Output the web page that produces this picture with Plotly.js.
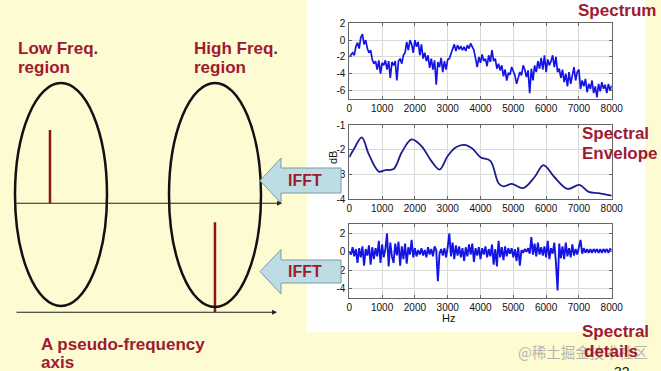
<!DOCTYPE html>
<html>
<head>
<meta charset="utf-8">
<script src="https://cdn.plot.ly/plotly-3.0.1.min.js"></script>
<style>html,body{margin:0;padding:0;background:#FDFBD2;}#chart{width:661px;height:371px;}</style>
</head>
<body>
<div id="chart"></div>
<script>
// ---------- DATA ----------
const freqStart = 0;      // Hz
const freqStep = 50;      // Hz between samples
const freqTicks = [0, 1000, 2000, 3000, 4000, 5000, 6000, 7000, 8000];

// Spectrum (log magnitude), samples every 50 Hz from 0 to 8000 Hz
const spectrum = [
  -2, -1.7, -1.5, -1.8, -0.8, -0.3, -1, 0.3, 0.7, -0.5, 0, -1, -1.5, -1.2, -2.3, -2.8, -2.5, -3.5, -2.4, -4,
  -2.7, -3, -2.4, -3.5, -2.5, -4.5, -2.6, -3, -2.5, -4.8, -2.5, -2.2, -2.8, -1.8, -1.5, -0.2, -1.2, 0, -0.5, -1.5,
  0, -0.8, -0.2, -1.8, -0.5, -2.2, -1.5, -2.5, -1.8, -3.3, -2.2, -3.5, -2.4, -5.3, -2.6, -3.2, -2.1, -3.8, -2.5, -3.5,
  -2.3, -2.2, -1.6, -1.2, -0.5, -1.3, -0.6, -1.1, -0.7, -1.2, -0.8, -1.3, -0.6, -1, -0.4, -0.8, -1.2, -2.2, -3.2, -2,
  -2.7, -1.7, -2.5, -2.2, -3.1, -1.8, -2.6, -1.2, -2.5, -2.2, -3.4, -2.8, -3.6, -3, -4.3, -3.5, -4.8, -3.9, -4.1, -3.2,
  -3.8, -4.2, -5.2, -4.4, -3.8, -4.2, -3, -3.5, -4.4, -3.6, -6.3, -3.4, -4.8, -3, -3.8, -2.5, -3.4, -2.1, -3.5, -1.8,
  -3.8, -2.3, -3, -2.5, -1.8, -3.2, -2, -3.8, -3.4, -4.5, -3.5, -5, -4, -5.5, -3.8, -5.2, -4.3, -3.2, -4.8, -3.8,
  -3.5, -5.8, -4.8, -5.5, -4.6, -6.2, -5.2, -5.8, -4.8, -6.3, -5.5, -6.8, -5.2, -6.1, -5, -5.8, -5.3, -6.3, -5.2, -6,
  -5.4
];

// Spectral envelope (smooth)
const envelopeHz = [0, 150, 380, 600, 900, 1100, 1350, 1600, 1900, 2200, 2500, 2750, 3000, 3250, 3500, 3750, 4000, 4300, 4550, 4700, 4950, 5300, 5650, 5920, 6250, 6650, 7020, 7300, 7600, 8000];
const envelopeDb = [-2.3, -1.95, -1.5, -2.2, -2.88, -2.82, -2.78, -2.1, -1.58, -1.85, -2.45, -2.8, -2.25, -1.9, -1.8, -1.95, -2.3, -2.45, -3.35, -3.48, -3.38, -3.55, -3.1, -2.62, -3.1, -3.58, -3.42, -3.7, -3.75, -3.85];

// Spectral details (fine structure), samples every 50 Hz
const details = [
  0, -0.3, 0.5, -0.5, 0.3, -1.2, 0.4, -0.6, 0.6, -1.5, 0.3, -0.4, 0.7, -1.4, 0.5, -0.8, 0.4, -0.5, 1.2, -1.2,
  0.8, -0.6, 0.3, 2.0, -1.6, 1.0, -0.5, -1.2, 0.9, -0.4, 1.1, -1.5, 0.6, -0.8, 0.9, -1.3, 0.5, -0.3, 1.3, -0.6,
  0.4, -0.5, 0.2, -0.3, 0.4, -0.4, 0.2, -0.6, 0.5, -0.3, 0.3, -0.5, 0.6, 0.2, -3.2, -0.2, 0.3, -0.4, 0.4, -0.6,
  0.5, 2.0, -0.5, 1.0, -0.8, 0.7, -0.4, 0.6, -0.6, 0.4, -1.0, 0.5, -0.5, 0.8, -0.3, 0.9, -1.1, 0.4, -0.4, 0.5,
  -0.8, 0.4, -0.3, 0.6, -0.6, 0.3, -0.5, 0.8, -1.4, 0.3, -1.6, 1.2, -0.6, 0.5, -0.9, 0.6, -0.5, 0.4, -0.2, 0.4,
  -0.6, 0.3, -1.0, 0.5, -1.5, 0.2, -0.1, 0.3, 0.0, 0.4, -0.2, 1.6, -0.3, 0.9, -0.5, 1.0, -0.3, 0.5, -0.4, 0.6,
  -0.6, 1.2, -0.8, 0.4, -0.2, 1.0, -1.2, -4.2, 0.9, -0.7, 0.6, -0.8, 1.0, -0.5, 0.4, -0.6, 0.8, -0.4, 0.3, -0.3,
  0.5, 1.3, -0.2, 0.4, -0.1, 0.3, -0.1, 0.3, -0.1, 0.3, 0.0, 0.3, -0.1, 0.3, -0.1, 0.3, 0.0, 0.3, -0.1, 0.3,
  0.2
];

// Pseudo-frequency (cepstrum) diagram: two stems
const stemQuefrency = [1.31, 7.49];   // position along pseudo-frequency axis
const stemAmplitude = [0.73, 0.90];   // stem heights

// Tick labels
const ticks1 = [-6, -4, -2, 0, 2];
const ticks2 = [-4, -3, -2, -1];
const ticks3 = [-4, -2, 0, 2];

// ---------- LAYOUT HELPERS ----------
const W = 661, H = 371;
const X = p => p / W;
const Y = p => 1 - p / H;
const RED = '#9E1A32';
const BOLD = 'Liberation Sans, Arial, sans-serif';
const TICKF = {family: 'Liberation Sans Narrow, Liberation Sans, Arial, sans-serif', size: 10, color: '#111'};

const traces = [
  {x0: freqStart, dx: freqStep, y: spectrum, xaxis: 'x', yaxis: 'y', mode: 'lines', line: {color: '#1414E6', width: 1.7}},
  {x: envelopeHz, y: envelopeDb, xaxis: 'x2', yaxis: 'y2', mode: 'lines', line: {color: '#1C1C8F', width: 1.8, shape: 'spline', smoothing: 1}},
  {x0: freqStart, dx: freqStep, y: details, xaxis: 'x3', yaxis: 'y3', mode: 'lines', line: {color: '#1414E6', width: 1.9}},
  {x: [stemQuefrency[0], stemQuefrency[0]], y: [0, stemAmplitude[0]], xaxis: 'x4', yaxis: 'y4', mode: 'lines', line: {color: '#8B1414', width: 2.5}},
  {x: [stemQuefrency[1], stemQuefrency[1]], y: [0, stemAmplitude[1]], xaxis: 'x4', yaxis: 'y5', mode: 'lines', line: {color: '#8B1414', width: 2.5}}
];

const xDom = [X(349.3), X(611.7)];
function xax(anchor) {
  return {domain: xDom, anchor: anchor, range: [0, 8000], tickvals: freqTicks, ticktext: freqTicks.map(String),
    showgrid: true, gridcolor: '#d9d9d9', gridwidth: 1, zeroline: false, showline: true, mirror: 'ticks',
    linecolor: '#666', linewidth: 1, ticks: 'inside', ticklen: 3, tickcolor: '#666', tickfont: TICKF, fixedrange: true};
}
function yax(anchor, dom, range, tv) {
  return {domain: dom, anchor: anchor, range: range, tickvals: tv, ticktext: tv.map(String),
    showgrid: true, gridcolor: '#d9d9d9', gridwidth: 1, zeroline: false, showline: true, mirror: 'ticks',
    linecolor: '#666', linewidth: 1, ticks: 'inside', ticklen: 3, tickcolor: '#666', tickfont: TICKF, fixedrange: true,
    ticklabelstandoff: 1};
}

function arrowPath(tipX, tipY, headX, headTop, headBot, bodyTop, bodyBot, rightX) {
  const pt = (a, b) => X(a) + ',' + Y(b);
  return 'M' + pt(tipX, tipY) + ' L' + pt(headX, headTop) + ' L' + pt(headX, bodyTop) + ' L' + pt(rightX, bodyTop) +
    ' L' + pt(rightX, bodyBot) + ' L' + pt(headX, bodyBot) + ' L' + pt(headX, headBot) + ' Z';
}

function label(text, x, y, opts) {
  return Object.assign({text: text, x: X(x), y: Y(y), xref: 'paper', yref: 'paper', showarrow: false,
    xanchor: 'left', yanchor: 'middle', font: {family: BOLD, size: 17, color: RED, weight: 'bold'}}, opts || {});
}

const layout = {
  width: W, height: H,
  margin: {l: 0, r: 0, t: 0, b: 0, pad: 0},
  paper_bgcolor: '#FDFBD2', plot_bgcolor: 'rgba(0,0,0,0)',
  showlegend: false,
  xaxis: xax('y'), yaxis: yax('x', [Y(99), Y(23.3)], [-7, 2], ticks1),
  xaxis2: xax('y2'), yaxis2: yax('x2', [Y(199.3), Y(125)], [-4, -1], ticks2),
  xaxis3: xax('y3'), yaxis3: yax('x3', [Y(297.7), Y(224.3)], [-5, 3], ticks3),
  xaxis4: {domain: [X(15), X(282)], anchor: 'y4', range: [0, 10], visible: false, fixedrange: true},
  yaxis4: {domain: [Y(203.3), Y(83)], anchor: 'x4', range: [0, 1.2], visible: false, fixedrange: true},
  yaxis5: {domain: [Y(312.3), Y(203.3)], anchor: 'x4', range: [0, 1.09], visible: false, fixedrange: true},
  shapes: [
    {type: 'rect', xref: 'paper', yref: 'paper', x0: X(307), x1: X(645), y0: Y(332), y1: Y(0), fillcolor: '#ffffff', line: {width: 0}, layer: 'below'},
    {type: 'circle', xref: 'paper', yref: 'paper', x0: X(15), x1: X(107), y0: Y(306), y1: Y(83), line: {color: '#111', width: 2.5}},
    {type: 'circle', xref: 'paper', yref: 'paper', x0: X(169), x1: X(261), y0: Y(307), y1: Y(83), line: {color: '#111', width: 2.5}},
    {type: 'path', xref: 'paper', yref: 'paper', path: arrowPath(260, 180.7, 281, 158, 203, 168, 193, 341), fillcolor: '#BDDDE4', line: {color: '#7C9AA3', width: 1}, layer: 'above'},
    {type: 'path', xref: 'paper', yref: 'paper', path: arrowPath(260, 271.5, 281, 249.5, 294, 260, 283, 341), fillcolor: '#BDDDE4', line: {color: '#7C9AA3', width: 1}, layer: 'above'}
  ],
  annotations: [
    // pseudo-frequency axes with arrow heads
    {x: X(282), y: Y(203.3), xref: 'paper', yref: 'paper', text: '', showarrow: true, ax: -267, ay: 0, axref: 'pixel', ayref: 'pixel',
      arrowhead: 2, arrowsize: 0.9, arrowwidth: 1.1, arrowcolor: '#222', standoff: 0},
    {x: X(277), y: Y(312.3), xref: 'paper', yref: 'paper', text: '', showarrow: true, ax: -262, ay: 0, axref: 'pixel', ayref: 'pixel',
      arrowhead: 2, arrowsize: 0.9, arrowwidth: 1.1, arrowcolor: '#222', standoff: 0},
    label('Low Freq.', 16, 48),
    label('region', 16, 67.5),
    label('High Freq.', 192, 48),
    label('region', 192, 67.5),
    label('A pseudo-frequency', 39, 344),
    label('axis', 39, 362.5),
    label('IFFT', 305, 181, {xanchor: 'center', font: {family: BOLD, size: 16, color: RED, weight: 'bold'}}),
    label('IFFT', 305, 271.5, {xanchor: 'center', font: {family: BOLD, size: 16, color: RED, weight: 'bold'}}),
    label('Spectrum', 658, 11, {xanchor: 'right'}),
    label('Spectral', 580, 133.5),
    label('Envelope', 580, 153),
    {text: '@稀土掘金技术社区', x: X(516), y: Y(351), xref: 'paper', yref: 'paper', showarrow: false, xanchor: 'left', yanchor: 'middle',
      font: {family: 'Noto Sans CJK SC, sans-serif', size: 14.5, color: 'rgba(170,170,170,0.9)'}},
    label('Spectral', 580, 331),
    label('details', 582, 351.5),
    label('32', 622, 372, {xanchor: 'center', font: {family: 'Liberation Sans, Arial, sans-serif', size: 14, color: '#111'}}),
    {text: 'dB', x: X(333), y: Y(158), xref: 'paper', yref: 'paper', showarrow: false, textangle: -90, xanchor: 'center', yanchor: 'middle',
      font: {family: 'Liberation Sans, Arial, sans-serif', size: 11, color: '#111'}},
    {text: 'Hz', x: X(448), y: Y(317.5), xref: 'paper', yref: 'paper', showarrow: false, xanchor: 'center', yanchor: 'middle',
      font: {family: 'Liberation Sans, Arial, sans-serif', size: 11, color: '#111'}}
  ]
};

Plotly.newPlot('chart', traces, layout, {staticPlot: true, displayModeBar: false});
</script>
</body>
</html>
